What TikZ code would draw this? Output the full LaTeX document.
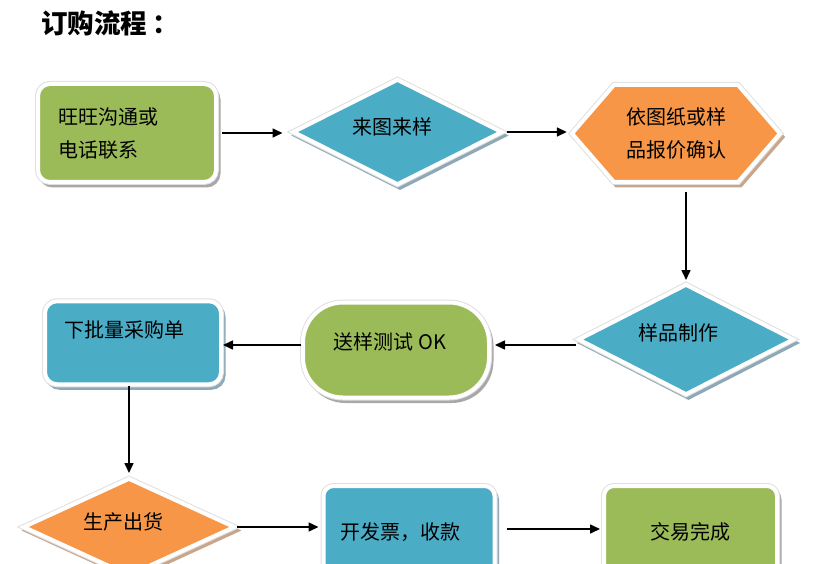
\documentclass[tikz,border=0pt]{standalone}
\usepackage{fontspec}
\newfontfamily\cjk{Noto Sans CJK SC}
\usetikzlibrary{arrows.meta,shapes.geometric}
\definecolor{cgreen}{HTML}{9BBB59}
\definecolor{cblue}{HTML}{4BACC6}
\definecolor{corange}{HTML}{F79646}
\definecolor{sgreen}{HTML}{A8A8A8}
\definecolor{sblue}{HTML}{8DA9B8}
\definecolor{sorange}{HTML}{C9A68B}
\begin{document}
\begin{tikzpicture}[x=1pt,y=-1pt,
  shp/.style 2 args={fill=#1, draw=white, line width=4pt,
    preaction={fill=#2, draw=#2, line width=4pt, transform canvas={shift={(2.5pt,-3.5pt)}}},
    preaction={draw=black!12, line width=6pt}},
  box/.style={inner sep=0pt, font=\cjk\fontsize{20}{33}\selectfont, text=black},
  diam/.style={diamond, aspect=2},
  arr/.style={draw=black, line width=1.6pt, -{Triangle[length=10pt,width=9pt]}}
]
\fill[white, use as bounding box] (0,0) rectangle (830,564);

\node[font=\cjk\bfseries\fontsize{26.5}{26.5}\selectfont, anchor=west, inner sep=0pt] (title) at (41,23) {订购流程\hspace{5pt}：};

% row 1
\node[box, shp={cgreen}{sgreen}, rounded corners=12pt, minimum width=178pt, minimum height=98pt,
  text width=138pt, inner xsep=20pt, align=left] (n1) at (127,133) {旺旺沟通或\\电话联系};
\node[box, diam, shp={cblue}{sblue}, minimum width=210pt, minimum height=106pt,
  text height=17pt, text depth=11pt] (n2) at (397.5,132) {来图来样\hspace*{11pt}};
\draw[shp={corange}{sorange}] (572,133.5) -- (614,85) -- (738,85) -- (780,133.5) -- (738,182) -- (614,182) -- cycle;
\node[box, minimum width=208pt, minimum height=97pt, align=center] (n3) at (676,133.5) {依图纸或样\\品报价确认};

% row 2
\node[box, diam, shp={cblue}{sblue}, minimum width=216pt, minimum height=111pt,
  text height=17pt, text depth=16pt] (n4) at (686,339.5) {样品制作\hspace*{16pt}};
\node[box, shp={cgreen}{sgreen}, rounded corners=40pt, minimum width=186pt, minimum height=95pt,
  text height=17pt, text depth=19pt] (n5) at (396,350) {送样测试 OK\hspace*{12pt}};
\node[box, shp={cblue}{sblue}, rounded corners=12pt, minimum width=176pt, minimum height=83pt,
  text width=138pt, inner xsep=19pt, align=left, text height=17pt, text depth=28.5pt] (n6) at (133,342.75) {下批量采购单};

% row 3
\node[box, diam, shp={corange}{sorange}, minimum width=212pt, minimum height=98pt,
  text height=17pt, text depth=13pt] (n7) at (129,527) {生产出货\hspace*{12pt}};
\node[box, shp={cblue}{sblue}, rounded corners=10pt, minimum width=171pt, minimum height=92pt,
  text height=17pt, text depth=3pt] (n8) at (409,532) {开发票，收款\hspace*{18pt}};
\node[box, shp={cgreen}{sgreen}, rounded corners=10pt, minimum width=173pt, minimum height=92pt,
  text height=17pt, text depth=3pt] (n9) at (690.5,532) {交易完成};

% connectors
\draw[arr, shorten <=4pt, shorten >=8pt] (n1.east) -- (n1.east -| n2.west);
\draw[arr, shorten <=2pt, shorten >=5pt] (n2.east) -- (n2.east -| n3.west);
\draw[arr, shorten <=10pt, shorten >=2pt] (n3.south -| n4.north) -- (n4.north);
\draw[arr, shorten >=4pt] ([yshift=-5.5pt]n4.west) -- ([yshift=-5.5pt]n4.west -| n5.east);
\draw[arr] ([yshift=5pt]n5.west) -- ([yshift=5pt]n5.west -| n6.east);
\draw[arr, shorten >=3pt] (n6.south -| n7.north) -- (n7.north);
\draw[arr, shorten >=3pt] (n7.east) -- (n7.east -| n8.west);
\draw[arr, shorten <=10pt, shorten >=2pt] ([yshift=3pt]n8.east) -- ([yshift=3pt]n8.east -| n9.west);
\end{tikzpicture}
\end{document}
